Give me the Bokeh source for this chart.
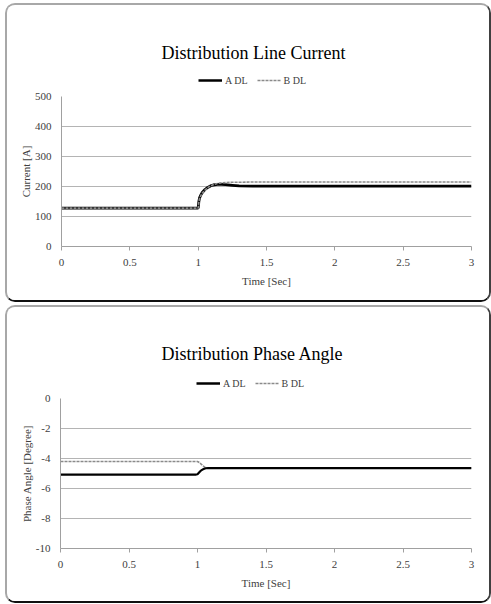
from bokeh.plotting import figure
from bokeh.layouts import column
from bokeh.models import Legend, LegendItem, FixedTicker, Range1d, Label
from bokeh.embed import file_html
from bokeh.resources import INLINE

# ---------------- data ----------------
x_ticks = [0, 0.5, 1, 1.5, 2, 2.5, 3]
x_tick_labels = ["0", "0.5", "1", "1.5", "2", "2.5", "3"]

cur_ticks = [0, 100, 200, 300, 400, 500]
cur_tick_labels = ["0", "100", "200", "300", "400", "500"]
ang_ticks = [-10, -8, -6, -4, -2, 0]
ang_tick_labels = ["-10", "-8", "-6", "-4", "-2", "0"]

t_cur = [0.0, 0.5, 0.99, 1.0, 1.005, 1.01, 1.02, 1.03, 1.05, 1.07, 1.09, 1.11,
         1.14, 1.17, 1.2, 1.25, 1.3, 1.4, 1.6, 2.0, 2.5, 3.0]
a_cur = [128, 128, 128, 128, 150, 162, 172, 180, 190, 197, 202, 205,
         207, 207, 206, 204, 202, 201, 201, 201, 201, 201]
b_cur = [128, 128, 128, 128, 148, 160, 170, 178, 188, 196, 202, 206,
         210, 212, 213, 214, 214, 215, 215, 215, 215, 215]

t_ang = [0.0, 0.5, 0.99, 1.0, 1.01, 1.02, 1.03, 1.04, 1.05, 1.06, 1.08, 1.2, 2.0, 3.0]
a_ang = [-5.07, -5.07, -5.07, -5.05, -4.95, -4.85, -4.78, -4.72, -4.68, -4.65, -4.64, -4.64, -4.64, -4.64]
b_ang = [-4.2, -4.2, -4.2, -4.2, -4.25, -4.32, -4.4, -4.48, -4.56, -4.62, -4.64, -4.64, -4.64, -4.64]

series_names = ["A DL", "B DL"]

FONT = "Liberation Serif"
TICK_COLOR = "#404040"
GRID_COLOR = "#b4b4b4"
AXIS_COLOR = "#a0a0a0"

A_STYLE = dict(line_color="black", line_width=2.6)
B_STYLE = dict(line_color="#8a8a8a", line_width=1.6, line_dash="3 1")

PANEL_STYLE = {
    "border-left": "2px solid #a8a8a8",
    "border-top": "2px solid #a8a8a8",
    "border-right": "2px solid #404040",
    "border-bottom": "2px solid #101010",
    "border-radius": "10px",
    "margin-left": "5px",
    "margin-top": "3px",
    "overflow": "hidden",
}

HEADER_H = 86


def make_header(title, title_xy, legend_xy, t, a, b):
    # header strip holding the title and the legend (its frame is aligned with the chart's)
    h = figure(width=482, height=HEADER_H, output_backend="svg", toolbar_location=None,
               x_axis_location=None, y_axis_location=None,
               x_range=Range1d(100, 101), y_range=Range1d(0, 1), min_border=0)
    h.outline_line_color = None
    h.grid.visible = False
    h.border_fill_color = "white"
    ra = h.line(t, a, **A_STYLE)   # out of this strip's range: used only for legend samples
    rb = h.line(t, b, **B_STYLE)
    h.add_layout(Label(x=title_xy[0], y=title_xy[1], x_units="screen", y_units="screen",
                       text=title, text_font=FONT, text_font_size="18px",
                       text_color="black", text_align="center", text_baseline="middle"))
    legend = Legend(items=[LegendItem(label=series_names[0], renderers=[ra]),
                           LegendItem(label=series_names[1], renderers=[rb])],
                    location=legend_xy, orientation="horizontal",
                    label_text_font=FONT, label_text_font_size="10px",
                    label_text_color=TICK_COLOR,
                    glyph_width=24, glyph_height=12, label_height=12,
                    label_standoff=3, spacing=9, padding=0, margin=0,
                    border_line_color=None, background_fill_alpha=0)
    h.add_layout(legend, "center")
    return h


def make_chart(height, bl, bt, bb, ylabel, yr, yticks, ylabels, t, a, b, a_width, b_first):
    p = figure(width=482, height=height, output_backend="svg", toolbar_location=None,
               x_range=Range1d(0, 3), y_range=Range1d(*yr),
               min_border_left=bl, min_border_right=18, min_border_top=bt,
               min_border_bottom=bb)
    p.outline_line_color = None
    p.background_fill_color = "white"
    p.border_fill_color = "white"

    a_style = dict(A_STYLE, line_width=a_width)
    if b_first:
        p.line(t, b, **B_STYLE)
        p.line(t, a, **a_style)
    else:
        p.line(t, a, **a_style)
        p.line(t, b, **B_STYLE)

    p.xaxis.ticker = FixedTicker(ticks=x_ticks)
    p.xaxis.major_label_overrides = dict(zip(x_ticks, x_tick_labels))
    p.yaxis.ticker = FixedTicker(ticks=yticks)
    p.yaxis.major_label_overrides = dict(zip(yticks, ylabels))
    for ax in (p.xaxis[0], p.yaxis[0]):
        ax.axis_line_color = AXIS_COLOR
        ax.major_tick_line_color = AXIS_COLOR
        ax.minor_tick_line_color = None
        ax.major_label_text_font = FONT
        ax.major_label_text_font_size = "11px"
        ax.major_label_text_color = TICK_COLOR
        ax.axis_label_text_font = FONT
        ax.axis_label_text_font_size = "11px"
        ax.axis_label_text_font_style = "normal"
        ax.axis_label_text_color = TICK_COLOR
    p.xaxis.major_tick_in = 0
    p.xaxis.major_tick_out = 4
    p.xaxis.major_label_standoff = 8
    p.xaxis.axis_label = "Time [Sec]"
    p.xaxis.axis_label_standoff = 6
    p.yaxis.major_tick_in = 0
    p.yaxis.major_tick_out = 0
    p.yaxis.major_label_standoff = 10
    p.yaxis.axis_label = ylabel
    p.yaxis.axis_label_standoff = 0

    p.xgrid.grid_line_color = None
    p.ygrid.grid_line_color = GRID_COLOR
    p.ygrid.grid_line_width = 1
    return p


h1 = make_header("Distribution Line Current", (192, 39), (137, 5), t_cur, a_cur, b_cur)
c1 = make_chart(209, 54, 5, 54, "Current [A]", (0, 500), cur_ticks, cur_tick_labels,
                t_cur, a_cur, b_cur, 2.8, False)
h2 = make_header("Distribution Phase Angle", (192, 40), (136, 4), t_ang, a_ang, b_ang)
c2 = make_chart(208, 53, 5, 53, "Phase Angle [Degree]", (-10, 0), ang_ticks, ang_tick_labels,
                t_ang, a_ang, b_ang, 2.2, True)

panel1 = column(h1, c1, spacing=0, styles=PANEL_STYLE)
panel2 = column(h2, c2, spacing=0, styles=PANEL_STYLE)
layout = column(panel1, panel2, spacing=0)
open("out.html", "w").write(file_html(layout, INLINE))
